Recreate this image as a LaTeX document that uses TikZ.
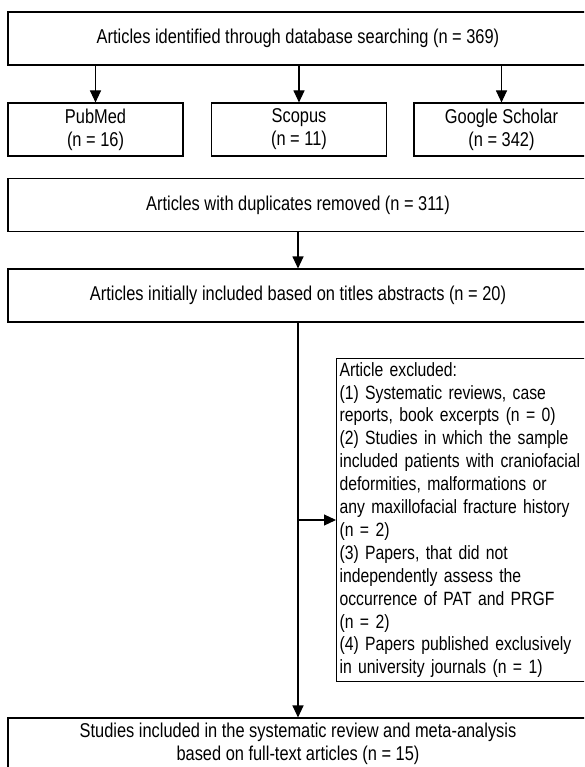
\documentclass[tikz,border=0pt]{standalone}
\usepackage{fontspec}
\setmainfont{Liberation Sans}[FakeStretch=0.82]
\usetikzlibrary{arrows.meta}

\tikzset{
    box/.style={draw, line width=1.1pt, minimum height=53pt, inner sep=4pt, align=center,
        font=\fontsize{20}{22.9}\selectfont},
    widebox/.style={box, minimum width=580pt},
    dbbox/.style={box, minimum width=175pt},
    arr/.style={-{Triangle[width=11pt,length=12pt]}, line width=1.1pt},
}

\begin{document}
\begin{tikzpicture}[x=1pt, y=-1pt]

        % Rahmen
        \useasboundingbox (0,0) rectangle (584,767);
        \clip (0,0) rectangle (584,767);

        % Suche
        \node[widebox] (search) at (298,38.5) {Articles identified through database searching (n = 369)};

        % Datenbanken
        \node[dbbox] (pubmed) at (95.5,129.5) {PubMed\\(n = 16)};
        \node[dbbox] (scopus) at (299,129.5) {Scopus\\(n = 11)};
        \node[dbbox] (scholar) at (501.5,129.5) {Google Scholar\\(n = 342)};

        \draw[arr] (search.south -| pubmed.north) -- (pubmed.north);
        \draw[arr] (search.south -| scopus.north) -- (scopus.north);
        \draw[arr] (search.south -| scholar.north) -- (scholar.north);

        % Duplikate
        \node[widebox] (dupl) at (298,205) {Articles with duplicates removed (n = 311)};
        \node[widebox] (titles) at (298,295.5) {Articles initially included based on titles abstracts (n = 20)};
        \draw[arr] (dupl) -- (titles);

        % Ausgeschlossen
        \node[box, anchor=west, text width=270pt, inner xsep=3pt, align=left,
            font=\fontsize{19.2}{22.9}\selectfont] (excl) at (336,520) {Article excluded:\\
            (1) Systematic reviews, case\\
            reports, book excerpts (n = 0)\\
            (2) Studies in which the sample\\
            included patients with craniofacial\\
            deformities, malformations or\\
            any maxillofacial fracture history\\
            (n = 2)\\
            (3) Papers, that did not\\
            independently assess the\\
            occurrence of PAT and PRGF\\
            (n = 2)\\
            (4) Papers published exclusively\\
            in university journals (n = 1)};

        % Ergebnis
        \node[widebox, minimum height=52pt] (final) at (298,744) {Studies included in the systematic review and meta-analysis\\based on full-text articles (n = 15)};

        \draw[arr] (titles) -- (final);
        \draw[arr] (excl.west -| titles.south) -- (excl.west);
    \end{tikzpicture}
\end{document}
